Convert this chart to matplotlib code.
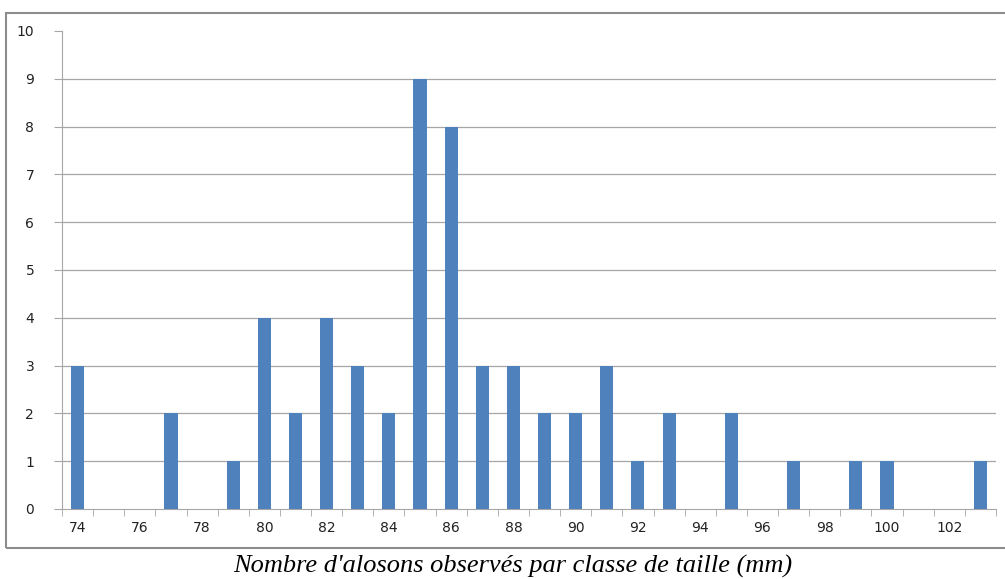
import matplotlib.pyplot as plt
import numpy as np
from matplotlib.patches import Rectangle

# classes de taille (mm) et nombre d'alosons
tailles = list(range(74, 104))
effectifs = [3, 0, 0, 2, 0, 1, 4, 2, 4, 3,
             2, 9, 8, 3, 3, 2, 2, 3, 1, 2,
             0, 2, 0, 1, 0, 1, 1, 0, 0, 1]
etiquettes_x = list(range(74, 104, 2))
etiquettes_y = list(range(0, 11))
legende = "Nombre d'alosons observés par classe de taille (mm)"

fig = plt.figure(figsize=(10.05, 5.79), dpi=100)
ax = fig.add_axes([0.0617, 0.1209, 0.9293, 0.8256])

# cadre exterieur du graphique
fig.patches.append(Rectangle((0.006, 0.053), 1.2, 0.925, transform=fig.transFigure,
                             fill=False, edgecolor='#8c8c8c', linewidth=1.5))

ax.bar(tailles, effectifs, width=0.42, color='#4F81BD', zorder=3)

ax.set_xlim(73.5, 103.5)
ax.set_ylim(0, 10)

# grille horizontale
for v in etiquettes_y[1:-1]:
    ax.axhline(v, color='#a6a6a6', linewidth=0.9, zorder=1)

for s in ['top', 'right']:
    ax.spines[s].set_visible(False)
ax.spines['left'].set_color('#a6a6a6')
ax.spines['bottom'].set_color('#a6a6a6')

ax.set_yticks(etiquettes_y)
ax.set_yticklabels([str(v) for v in etiquettes_y])
ax.tick_params(axis='y', length=6, color='#a6a6a6', pad=14, labelsize=10, labelcolor='#222222')

ax.set_xticks(etiquettes_x)
ax.set_xticklabels([str(v) for v in etiquettes_x])
ax.set_xticks(np.arange(73.5, 104, 1), minor=True)
ax.tick_params(axis='x', which='major', length=0, pad=9, labelsize=10, labelcolor='#222222')
ax.tick_params(axis='x', which='minor', length=5, color='#a6a6a6')

fig.text(0.51, 0.022, legende, ha='center', va='center', fontsize=19,
         family='Liberation Serif', style='italic')

plt.savefig('out.png', dpi=100)
